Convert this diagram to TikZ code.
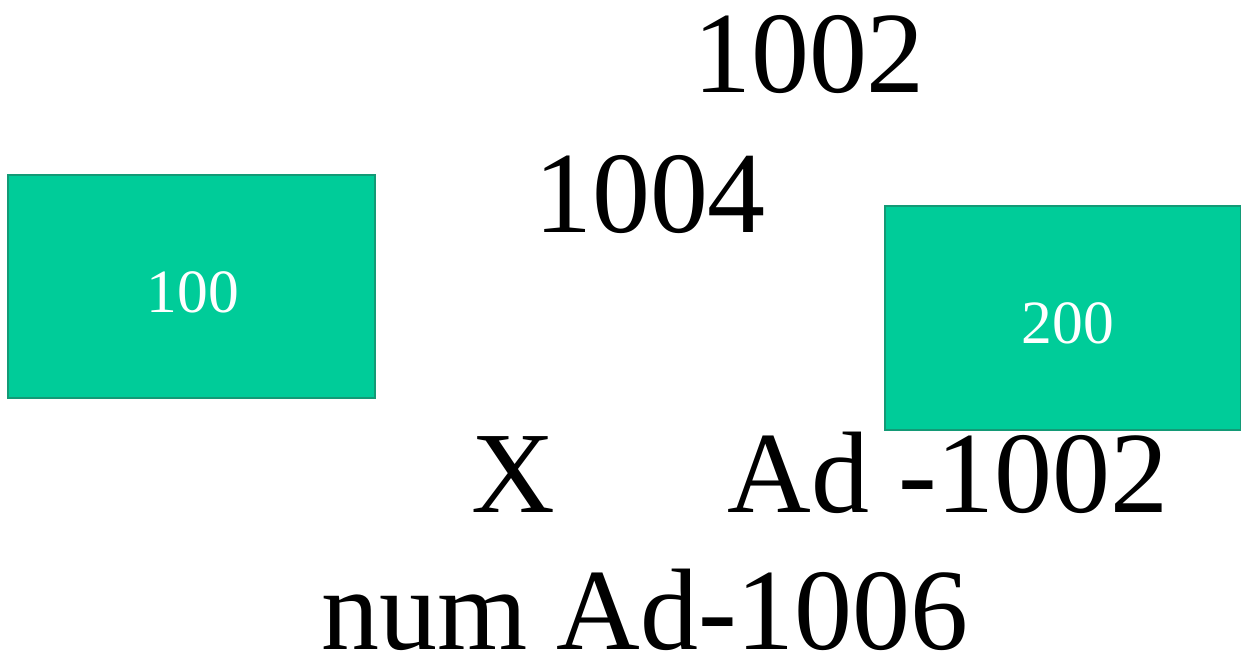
\documentclass[tikz,border=0pt]{standalone}
\usepackage{fontspec}
\setmainfont{Liberation Serif}
\usepackage{tikz}
\definecolor{boxColor}{HTML}{00CC99}
\definecolor{boxBorder}{HTML}{139A76}

\tikzset{
    valBox/.style={draw=boxBorder, fill=boxColor, line width=1.4pt, text=white,
        inner sep=0pt, font=\fontsize{35}{40}\selectfont},
    valText/.style={inner sep=0pt, anchor=base, text=white, font=\fontsize{35}{40}\selectfont},
    bigText/.style={inner sep=0pt, anchor=base, font=\fontsize{66}{72}\selectfont}
}

\begin{document}
\begin{tikzpicture}[x=0.02cm, y=-0.02cm]
    \useasboundingbox (0,0) rectangle (1241,659);
    \node[valBox, minimum width=7.34cm, minimum height=4.46cm] (boxA) at (191.5,286.5) {};
    \node[valBox, minimum width=7.12cm, minimum height=4.48cm] (boxB) at (1063,318) {};
    \node[valText] (valA) at (193,312) {100};
    \node[valText] (valB) at (1068,343) {200};
    \node[bigText] (addrTop) at (809,92) {1002};
    \node[bigText] (addrMid) at (650,232) {1004};
    \node[bigText] (varX) at (513,512) {X};
    \node[bigText] (addrX) at (948,512) {Ad -1002};
    \node[bigText] (addrNum) at (645,649) {num Ad-1006};
\end{tikzpicture}
\end{document}
